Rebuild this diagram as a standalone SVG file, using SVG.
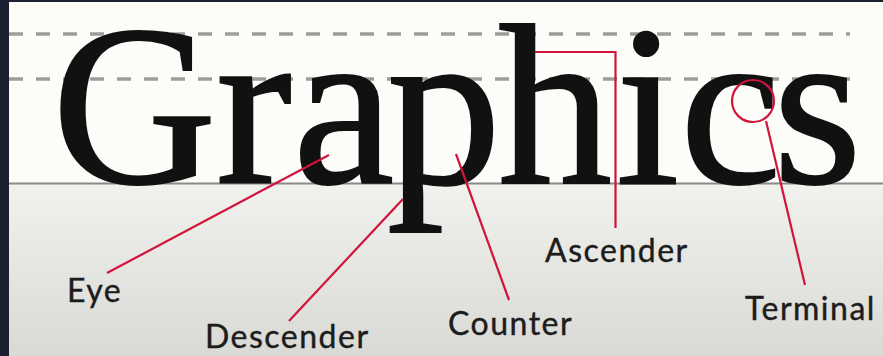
<svg xmlns="http://www.w3.org/2000/svg" width="883" height="356" viewBox="0 0 883 356">
<defs>
<linearGradient id="lower" x1="0" y1="0" x2="0" y2="1">
<stop offset="0" stop-color="#f1f1ee"/>
<stop offset="1" stop-color="#d9d9d5"/>
</linearGradient>
<style>
.guide{stroke:#9c9c9a;stroke-width:3.5;stroke-dasharray:14 13;fill:none}
.lead{stroke:#d0143c;stroke-width:2.2;fill:none}
.label{font-family:Lato,"Open Sans",sans-serif;font-size:32px;letter-spacing:1.5px;fill:#1c1c1c;stroke:#1c1c1c;stroke-width:0.4}
</style>
</defs>
<rect x="0" y="0" width="883" height="356" fill="#fcfcf8"/>
<rect x="0" y="184" width="883" height="172" fill="url(#lower)"/>
<line x1="9" y1="183.5" x2="883" y2="183.5" stroke="#8a8a88" stroke-width="2"/>
<line class="guide" x1="9" y1="34" x2="850" y2="34"/>
<line class="guide" x1="9" y1="79" x2="850" y2="79"/>
<rect x="0" y="0" width="883" height="2" fill="#1b2030"/>
<rect x="0" y="0" width="9" height="356" fill="#1b2030"/>
<g id="word">
<text font-family="Liberation Serif" font-size="228" fill="#111" stroke="#111" stroke-width="2" x="52 216 293 387 498 616 680 773" y="183">Graphics</text>
</g>
<g id="connectors">
<line class="lead" x1="107" y1="273" x2="329" y2="155"/>
<line class="lead" x1="289" y1="321" x2="403" y2="199"/>
<line class="lead" x1="456" y1="154" x2="509" y2="300"/>
<path class="lead" d="M535 52 H615.5 V228"/>
<circle class="lead" cx="753" cy="101" r="21"/>
<line class="lead" x1="766" y1="121" x2="805" y2="285"/>
</g>
<g id="eye"><text class="label" x="67" y="302">Eye</text></g>
<g id="descender"><text class="label" x="205" y="348">Descender</text></g>
<g id="counter"><text class="label" x="448" y="335">Counter</text></g>
<g id="ascender"><text class="label" x="545" y="262">Ascender</text></g>
<g id="terminal"><text class="label" x="745" y="320">Terminal</text></g>
</svg>
